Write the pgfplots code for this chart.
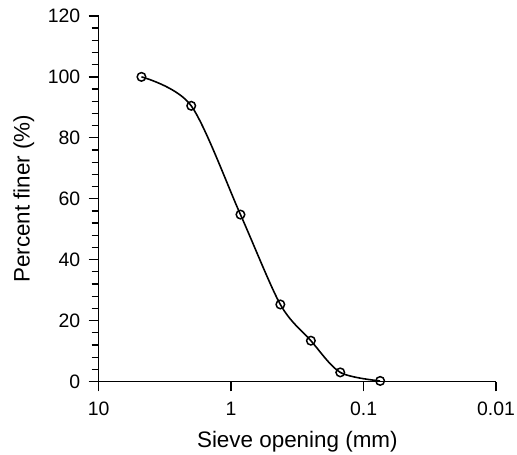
\documentclass[border=0pt]{standalone}
\usepackage{pgfplots}
\pgfplotsset{compat=1.18}
\usepackage{fontspec}
\setmainfont{Liberation Sans}
\begin{document}
\begin{tikzpicture}
\begin{axis}[
  name=ax,
  scale only axis,
  width=399bp, height=367bp,
  xmode=log, x dir=reverse,
  xmin=0.01, xmax=10,
  ymin=0, ymax=120,
  axis lines*=left,
  axis line style={line width=1.4pt},
  tick style={line width=1.3pt, black},
  tick align=outside,
  major tick length=10bp,
  minor tick length=7bp,
  xtick={10,1,0.1,0.01},
  xticklabels={10,1,0.1,0.01},
  ytick={0,20,40,60,80,100,120},
  minor y tick num=4,
  /pgf/number format/assume math mode=true,
  tick label style={font=\fontsize{19.5bp}{23bp}\selectfont},
  yticklabel style={xshift=-5bp},
  xticklabel style={yshift=-7bp},
  label style={font=\fontsize{22.5bp}{26bp}\selectfont},
  xlabel={Sieve opening (mm)},
  ylabel={Percent finer (\%)},
  xlabel style={at={(axis description cs:0.5,0)}, anchor=center, yshift=-60bp},
  ylabel style={at={(axis description cs:0,0.5)}, anchor=center, yshift=75bp},
  clip=false,
]
\addplot[black, line width=1.6pt, smooth, mark=o, mark size=4.3bp,
  mark options={fill=white, line width=1.5pt}] coordinates {
  (4.75,100) (2.0,90.5) (0.85,54.8) (0.425,25.3) (0.25,13.4) (0.15,3.0) (0.075,0.2)
};
\end{axis}
\pgfresetboundingbox
\path ([xshift=-99bp,yshift=-73bp]ax.south west) rectangle ([xshift=21bp,yshift=16bp]ax.north east);
\end{tikzpicture}
\end{document}
